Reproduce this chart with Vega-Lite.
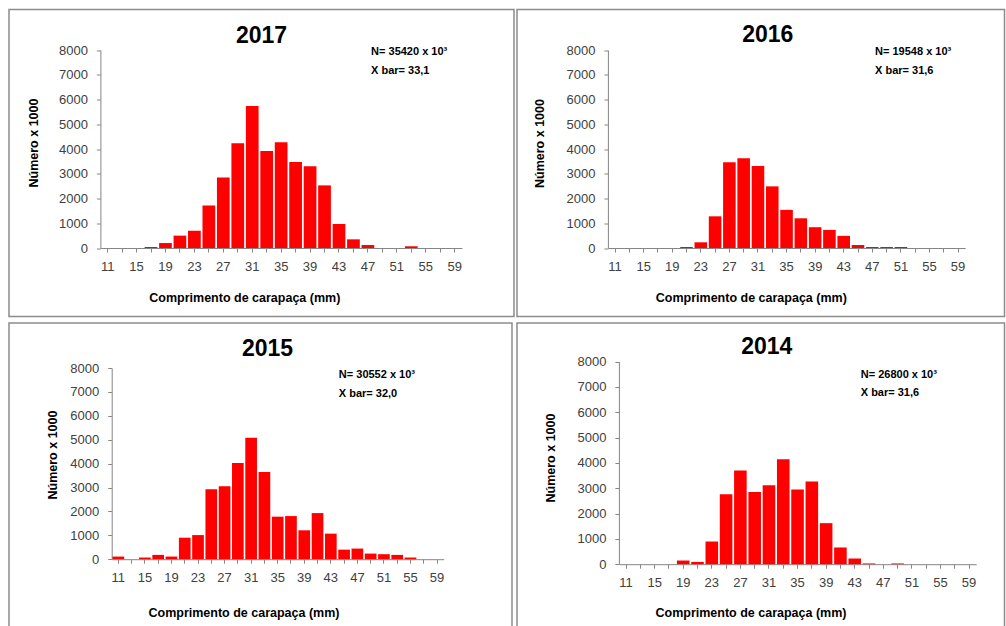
{
  "$schema": "https://vega.github.io/schema/vega-lite/v6.json",
  "padding": {"left": 8, "top": 8.5, "right": 0, "bottom": 0},
  "background": "white",
  "spacing": 4.5,
  "config": {
    "view": {"stroke": "#8c8c8c", "strokeWidth": 1.5},
    "font": "Liberation Sans",
    "axis": {
      "labelFont": "Liberation Sans", "labelFontSize": 13, "labelColor": "#404040",
      "domainColor": "#868686", "tickColor": "#868686", "tickSize": 4, "grid": false,
      "titleFont": "Liberation Sans", "titleFontSize": 12.5, "titleFontWeight": "bold", "titleColor": "#000000"
    },
    "axisX": {"labelAngle": 0, "labelPadding": 8, "labelExpr": "datum.value % 4 == 3 ? datum.label : ''", "titleBaseline": "alphabetic", "titleAlign": "center"},
    "axisY": {"values": [0, 1000, 2000, 3000, 4000, 5000, 6000, 7000, 8000], "format": "d", "labelPadding": 9, "titleAngle": -90, "titleBaseline": "middle", "titleAlign": "center"},
    "title": {"font": "Liberation Sans", "fontSize": 23, "fontWeight": "bold", "color": "#000000", "anchor": "middle", "baseline": "alphabetic"},
    "text": {"font": "Liberation Sans", "fontSize": 11, "fontWeight": "bold", "align": "left", "baseline": "alphabetic", "color": "#000000"}
  },
  "datasets": {
    "hist": [
      {"year": 2017, "bin": 11, "n": 0}, {"year": 2017, "bin": 13, "n": 0}, {"year": 2017, "bin": 15, "n": 0}, {"year": 2017, "bin": 17, "n": 40}, {"year": 2017, "bin": 19, "n": 200},
      {"year": 2017, "bin": 21, "n": 500}, {"year": 2017, "bin": 23, "n": 700}, {"year": 2017, "bin": 25, "n": 1720}, {"year": 2017, "bin": 27, "n": 2850}, {"year": 2017, "bin": 29, "n": 4230},
      {"year": 2017, "bin": 31, "n": 5740}, {"year": 2017, "bin": 33, "n": 3920}, {"year": 2017, "bin": 35, "n": 4270}, {"year": 2017, "bin": 37, "n": 3470}, {"year": 2017, "bin": 39, "n": 3300},
      {"year": 2017, "bin": 41, "n": 2530}, {"year": 2017, "bin": 43, "n": 970}, {"year": 2017, "bin": 45, "n": 350}, {"year": 2017, "bin": 47, "n": 120}, {"year": 2017, "bin": 49, "n": 0},
      {"year": 2017, "bin": 51, "n": 0}, {"year": 2017, "bin": 53, "n": 70}, {"year": 2017, "bin": 55, "n": 0}, {"year": 2017, "bin": 57, "n": 0}, {"year": 2017, "bin": 59, "n": 0},
      {"year": 2016, "bin": 11, "n": 0}, {"year": 2016, "bin": 13, "n": 0}, {"year": 2016, "bin": 15, "n": 0}, {"year": 2016, "bin": 17, "n": 0}, {"year": 2016, "bin": 19, "n": 0},
      {"year": 2016, "bin": 21, "n": 40}, {"year": 2016, "bin": 23, "n": 230}, {"year": 2016, "bin": 25, "n": 1280}, {"year": 2016, "bin": 27, "n": 3460}, {"year": 2016, "bin": 29, "n": 3630},
      {"year": 2016, "bin": 31, "n": 3310}, {"year": 2016, "bin": 33, "n": 2490}, {"year": 2016, "bin": 35, "n": 1540}, {"year": 2016, "bin": 37, "n": 1200}, {"year": 2016, "bin": 39, "n": 840},
      {"year": 2016, "bin": 41, "n": 730}, {"year": 2016, "bin": 43, "n": 490}, {"year": 2016, "bin": 45, "n": 120}, {"year": 2016, "bin": 47, "n": 40}, {"year": 2016, "bin": 49, "n": 40},
      {"year": 2016, "bin": 51, "n": 40}, {"year": 2016, "bin": 53, "n": 0}, {"year": 2016, "bin": 55, "n": 0}, {"year": 2016, "bin": 57, "n": 0}, {"year": 2016, "bin": 59, "n": 0},
      {"year": 2015, "bin": 11, "n": 110}, {"year": 2015, "bin": 13, "n": 0}, {"year": 2015, "bin": 15, "n": 70}, {"year": 2015, "bin": 17, "n": 180}, {"year": 2015, "bin": 19, "n": 110},
      {"year": 2015, "bin": 21, "n": 900}, {"year": 2015, "bin": 23, "n": 1010}, {"year": 2015, "bin": 25, "n": 2930}, {"year": 2015, "bin": 27, "n": 3055}, {"year": 2015, "bin": 29, "n": 4030},
      {"year": 2015, "bin": 31, "n": 5080}, {"year": 2015, "bin": 33, "n": 3650}, {"year": 2015, "bin": 35, "n": 1780}, {"year": 2015, "bin": 37, "n": 1805}, {"year": 2015, "bin": 39, "n": 1210},
      {"year": 2015, "bin": 41, "n": 1930}, {"year": 2015, "bin": 43, "n": 1070}, {"year": 2015, "bin": 45, "n": 400}, {"year": 2015, "bin": 47, "n": 445}, {"year": 2015, "bin": 49, "n": 235},
      {"year": 2015, "bin": 51, "n": 210}, {"year": 2015, "bin": 53, "n": 180}, {"year": 2015, "bin": 55, "n": 70}, {"year": 2015, "bin": 57, "n": 0}, {"year": 2015, "bin": 59, "n": 0},
      {"year": 2014, "bin": 11, "n": 0}, {"year": 2014, "bin": 13, "n": 0}, {"year": 2014, "bin": 15, "n": 0}, {"year": 2014, "bin": 17, "n": 0}, {"year": 2014, "bin": 19, "n": 145},
      {"year": 2014, "bin": 21, "n": 90}, {"year": 2014, "bin": 23, "n": 895}, {"year": 2014, "bin": 25, "n": 2760}, {"year": 2014, "bin": 27, "n": 3700}, {"year": 2014, "bin": 29, "n": 2850},
      {"year": 2014, "bin": 31, "n": 3120}, {"year": 2014, "bin": 33, "n": 4145}, {"year": 2014, "bin": 35, "n": 2950}, {"year": 2014, "bin": 37, "n": 3260}, {"year": 2014, "bin": 39, "n": 1620},
      {"year": 2014, "bin": 41, "n": 660}, {"year": 2014, "bin": 43, "n": 225}, {"year": 2014, "bin": 45, "n": 30}, {"year": 2014, "bin": 47, "n": 0}, {"year": 2014, "bin": 49, "n": 30},
      {"year": 2014, "bin": 51, "n": 0}, {"year": 2014, "bin": 53, "n": 0}, {"year": 2014, "bin": 55, "n": 0}, {"year": 2014, "bin": 57, "n": 0}, {"year": 2014, "bin": 59, "n": 0}
    ],
    "notes": [
      {"year": 2017, "bin": 47, "val": 7800, "label": "N= 35420 x 10³"},
      {"year": 2017, "bin": 47, "val": 7050, "label": "X bar= 33,1"},
      {"year": 2016, "bin": 47, "val": 7800, "label": "N= 19548 x 10³"},
      {"year": 2016, "bin": 47, "val": 7050, "label": "X bar= 31,6"},
      {"year": 2015, "bin": 45, "val": 7565, "label": "N= 30552 x 10³"},
      {"year": 2015, "bin": 45, "val": 6770, "label": "X bar= 32,0"},
      {"year": 2014, "bin": 43, "val": 7330, "label": "N= 26800 x 10³"},
      {"year": 2014, "bin": 43, "val": 6620, "label": "X bar= 31,6"}
    ]
  },
  "vconcat": [
    {
      "spacing": 1,
      "hconcat": [
        {
          "width": 505, "height": 307,
          "title": {"text": "2017", "offset": -38},
          "layer": [
            {
              "data": {"name": "hist"},
              "transform": [{"filter": "datum.year == 2017"}],
              "mark": {"type": "bar", "color": "#ff0000"},
              "encoding": {
                "x": {"field": "bin", "type": "ordinal",
                  "scale": {"domain": [11,13,15,17,19,21,23,25,27,29,31,33,35,37,39,41,43,45,47,49,51,53,55,57,59], "range": [91.4, 452.9], "paddingInner": 0.12, "paddingOuter": 0.06},
                  "axis": {"title": "Comprimento de carapaça (mm)", "offset": -68.5, "titleX": 235.3, "titleY": 53}},
                "y": {"field": "n", "type": "quantitative",
                  "scale": {"domain": [0, 8000], "range": [238.5, 40.5], "nice": false, "zero": true},
                  "axis": {"title": "Número x 1000", "offset": -91.4, "titleX": -67.4, "titleY": 133}}
              }
            },
            {
              "data": {"name": "notes"},
              "transform": [{"filter": "datum.year == 2017"}],
              "mark": {"type": "text"},
              "encoding": {
                "x": {"field": "bin", "type": "ordinal", "bandPosition": 0.75},
                "y": {"field": "val", "type": "quantitative"},
                "text": {"field": "label"}
              }
            }
          ]
        },
        {
          "width": 487.5, "height": 307,
          "title": {"text": "2016", "offset": -37, "dx": 7},
          "layer": [
            {
              "data": {"name": "hist"},
              "transform": [{"filter": "datum.year == 2016"}],
              "mark": {"type": "bar", "color": "#ff0000"},
              "encoding": {
                "x": {"field": "bin", "type": "ordinal",
                  "scale": {"domain": [11,13,15,17,19,21,23,25,27,29,31,33,35,37,39,41,43,45,47,49,51,53,55,57,59], "range": [90.9, 448.2], "paddingInner": 0.12, "paddingOuter": 0.06},
                  "axis": {"title": "Comprimento de carapaça (mm)", "offset": -68.5, "titleX": 233.8, "titleY": 53}},
                "y": {"field": "n", "type": "quantitative",
                  "scale": {"domain": [0, 8000], "range": [238.5, 40.5], "nice": false, "zero": true},
                  "axis": {"title": "Número x 1000", "offset": -90.9, "titleX": -68, "titleY": 133.5}}
              }
            },
            {
              "data": {"name": "notes"},
              "transform": [{"filter": "datum.year == 2016"}],
              "mark": {"type": "text"},
              "encoding": {
                "x": {"field": "bin", "type": "ordinal", "bandPosition": 0.72},
                "y": {"field": "val", "type": "quantitative"},
                "text": {"field": "label"}
              }
            }
          ]
        }
      ]
    },
    {
      "spacing": 3,
      "hconcat": [
        {
          "width": 503, "height": 304,
          "title": {"text": "2015", "offset": -38, "dx": 7},
          "layer": [
            {
              "data": {"name": "hist"},
              "transform": [{"filter": "datum.year == 2015"}],
              "mark": {"type": "bar", "color": "#ff0000"},
              "encoding": {
                "x": {"field": "bin", "type": "ordinal",
                  "scale": {"domain": [11,13,15,17,19,21,23,25,27,29,31,33,35,37,39,41,43,45,47,49,51,53,55,57,59], "range": [102.7, 434.7], "paddingInner": 0.12, "paddingOuter": 0.06},
                  "axis": {"title": "Comprimento de carapaça (mm)", "offset": -67.8, "titleX": 234.5, "titleY": 57}},
                "y": {"field": "n", "type": "quantitative",
                  "scale": {"domain": [0, 8000], "range": [236.2, 45.1], "nice": false, "zero": true},
                  "axis": {"title": "Número x 1000", "offset": -102.7, "titleX": -58.7, "titleY": 131.5}}
              }
            },
            {
              "data": {"name": "notes"},
              "transform": [{"filter": "datum.year == 2015"}],
              "mark": {"type": "text"},
              "encoding": {
                "x": {"field": "bin", "type": "ordinal", "bandPosition": 0.05},
                "y": {"field": "val", "type": "quantitative"},
                "text": {"field": "label"}
              }
            }
          ]
        },
        {
          "width": 487.5, "height": 304,
          "title": {"text": "2014", "offset": -36, "dx": 6},
          "layer": [
            {
              "data": {"name": "hist"},
              "transform": [{"filter": "datum.year == 2014"}],
              "mark": {"type": "bar", "color": "#ff0000"},
              "encoding": {
                "x": {"field": "bin", "type": "ordinal",
                  "scale": {"domain": [11,13,15,17,19,21,23,25,27,29,31,33,35,37,39,41,43,45,47,49,51,53,55,57,59], "range": [101.9, 459.2], "paddingInner": 0.12, "paddingOuter": 0.06},
                  "axis": {"title": "Comprimento de carapaça (mm)", "offset": -62.8, "titleX": 233.5, "titleY": 52.3}},
                "y": {"field": "n", "type": "quantitative",
                  "scale": {"domain": [0, 8000], "range": [241.2, 38.5], "nice": false, "zero": true},
                  "axis": {"title": "Número x 1000", "offset": -101.9, "titleX": -68, "titleY": 134.5}}
              }
            },
            {
              "data": {"name": "notes"},
              "transform": [{"filter": "datum.year == 2014"}],
              "mark": {"type": "text"},
              "encoding": {
                "x": {"field": "bin", "type": "ordinal", "bandPosition": 0.98},
                "y": {"field": "val", "type": "quantitative"},
                "text": {"field": "label"}
              }
            }
          ]
        }
      ]
    }
  ]
}
